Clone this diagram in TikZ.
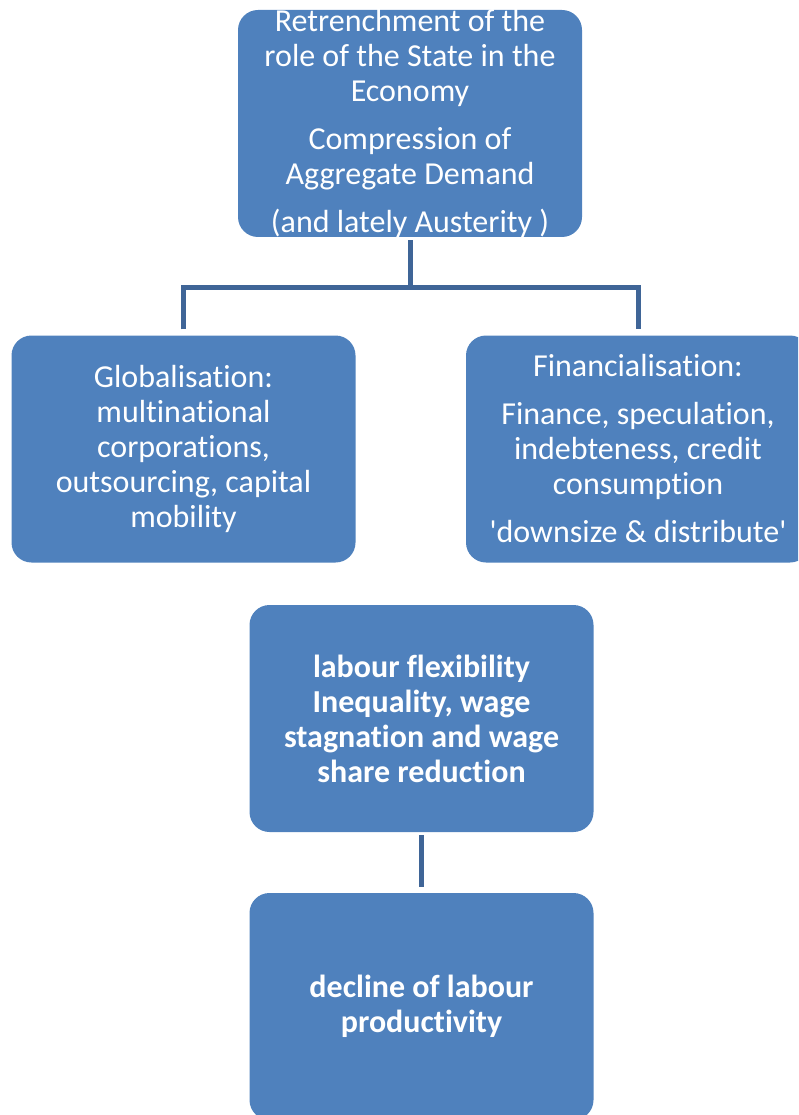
\documentclass[tikz,border=0pt]{standalone}
\usepackage{fontspec}
\setmainfont{Carlito}[Ligatures={NoCommon}]
\definecolor{boxblue}{HTML}{4F81BD}
\definecolor{lineblue}{HTML}{3F6597}
\tikzset{
  box/.style={rectangle, rounded corners=20pt, fill=boxblue, minimum width=344pt, minimum height=227pt, inner sep=0pt},
  boxtext/.style={text=white, align=center, font=\fontsize{32}{35}\selectfont},
  link/.style={draw=lineblue, line width=5pt},
}
\begin{document}
\begin{tikzpicture}[x=1pt,y=-1pt]
  \useasboundingbox (0,0) rectangle (798,1115);
  \clip (0,0) rectangle (798,1115);

  % Boxes
  \node[box] (state) at (410, 123.5) {};
  \node[box] (glob) at (183.5, 449) {};
  \node[box] (fin) at (638, 449) {};
  \node[box] (labour) at (421.5, 718.5) {};
  \node[box] (prod) at (421.5, 1006.5) {};

  % Texts
  \node[boxtext] (statetext) at (state.center) {Retrenchment of the\\role of the State in the\\Economy\\[13pt]Compression of\\Aggregate Demand\\[13pt](and lately Austerity )};
  \node[boxtext] (globtext) at (glob.center) {Globalisation:\\multinational\\corporations,\\outsourcing, capital\\mobility};
  \node[boxtext] (fintext) at (fin.center) {Financialisation:\\[13pt]Finance, speculation,\\indebteness, credit\\consumption\\[13pt]\textquotesingle downsize \& distribute\textquotesingle};
  \node[boxtext, font=\fontsize{32}{35}\selectfont\bfseries] (labourtext) at (labour.center) {labour flexibility\\Inequality, wage\\stagnation and wage\\share reduction};
  \node[boxtext, font=\fontsize{32}{35}\selectfont\bfseries] (prodtext) at (prod.center) {decline of labour\\productivity};

  % Connectors
  \coordinate (split) at (410, 287);
  \draw[link] ([yshift=-3pt]state.south) -- (split);
  \draw[link] ([yshift=6pt]glob.north) |- (split) -| ([yshift=6pt]fin.north);
  \draw[link] ([yshift=-3pt]labour.south) -- ([yshift=6pt]prod.north);
\end{tikzpicture}
\end{document}
